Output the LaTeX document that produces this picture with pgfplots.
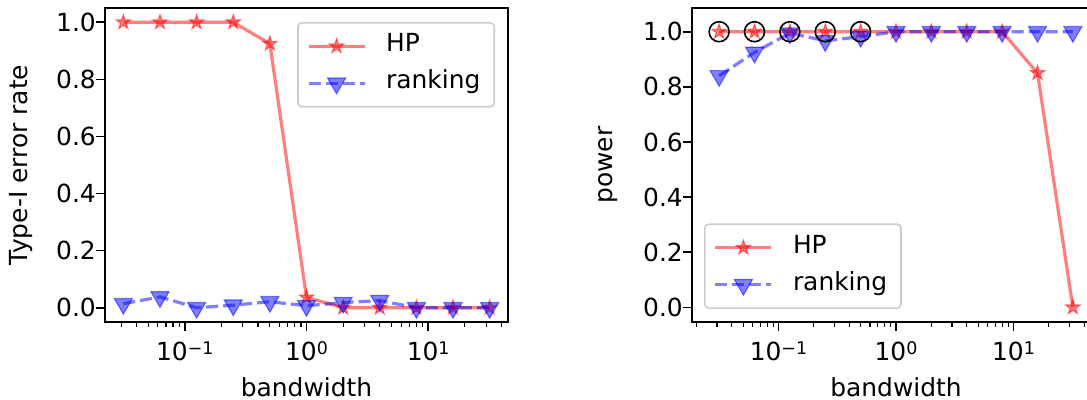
\documentclass[border=0pt]{standalone}
\usepackage{fontspec}
\setmainfont{DejaVu Sans}
\usepackage{pgfplots}
\pgfplotsset{compat=1.18}

\pgfdeclareplotmark{fstar}{%
  \pgfpathmoveto{\pgfpointpolar{90}{\pgfplotmarksize}}%
  \pgfpathlineto{\pgfpointpolar{126}{0.382\pgfplotmarksize}}%
  \pgfpathlineto{\pgfpointpolar{162}{\pgfplotmarksize}}%
  \pgfpathlineto{\pgfpointpolar{198}{0.382\pgfplotmarksize}}%
  \pgfpathlineto{\pgfpointpolar{234}{\pgfplotmarksize}}%
  \pgfpathlineto{\pgfpointpolar{270}{0.382\pgfplotmarksize}}%
  \pgfpathlineto{\pgfpointpolar{306}{\pgfplotmarksize}}%
  \pgfpathlineto{\pgfpointpolar{342}{0.382\pgfplotmarksize}}%
  \pgfpathlineto{\pgfpointpolar{18}{\pgfplotmarksize}}%
  \pgfpathlineto{\pgfpointpolar{54}{0.382\pgfplotmarksize}}%
  \pgfpathclose
  \pgfusepathqfillstroke}

\newcommand\fs{\fontsize{25}{30}\selectfont}
\newcommand\tenpow[1]{10\raisebox{6bp}{\fontsize{17.5}{20}\selectfont #1}}

\pgfplotstableread{
x        hpA   rkA    hpB   rkB
0.03125  1.0   0.014  1.0   0.840
0.0625   1.0   0.038  1.0   0.925
0.125    1.0   0.000  1.0   0.995
0.25     1.0   0.009  1.0   0.967
0.5      0.925 0.021  1.0   0.982
1        0.036 0.007  1.0   1.0
2        0.0   0.018  1.0   1.0
4        0.0   0.025  1.0   1.0
8        0.0   0.0    1.0   1.0
16       0.0   0.0    0.85  1.0
32       0.0   0.0    0.0   1.0
}\datatab

\pgfplotstableread{
x        y
0.03125  1.0
0.0625   1.0
0.125    1.0
0.25     1.0
0.5      1.0
}\circtab

\pgfplotsset{
  myaxis/.style={
    scale only axis,
    height=314bp,
    tick align=outside,
    tick pos=left,
    major tick length=9bp,
    minor tick length=5bp,
    axis line style={line width=1.6bp},
    every major tick/.style={black, line width=1.6bp},
    every minor tick/.style={black, line width=1.2bp},
    xtick={0.1,1,10},
    xticklabels={\tenpow{−1},\tenpow{0},\tenpow{1}},
    minor xtick={0.02,0.03,0.04,0.05,0.06,0.07,0.08,0.09,0.2,0.3,0.4,0.5,0.6,0.7,0.8,0.9,2,3,4,5,6,7,8,9,20,30,40,50},
    ytick={0,0.2,0.4,0.6,0.8,1.0},
    /pgf/number format/assume math mode=true,
    yticklabel style={/pgf/number format/fixed, /pgf/number format/fixed zerofill, /pgf/number format/precision=1, anchor=east, inner sep=0pt, font=\fs},
    xticklabel style={anchor=base, inner sep=0pt, yshift=-29bp, font=\fs},
    label style={font=\fs},
    xlabel={bandwidth},
    xlabel style={at={(axis description cs:0.5,-0.2357)}, anchor=base},
    legend cell align=left,
    legend style={draw=black!20, line width=1.6bp, rounded corners=4bp, font=\fs,
      fill=white, fill opacity=0.8, text opacity=1, draw opacity=1,
      inner xsep=9bp, inner ysep=13bp, row sep=16bp, column sep=20bp,
      nodes={inner sep=0pt, text height=16bp, text depth=5bp}},
    legend image code/.code={\draw[mark repeat=2,mark phase=2,#1] plot coordinates {(0bp,0bp) (28bp,0bp) (56bp,0bp)};},
  },
  hpstyle/.style={color=red, opacity=0.5, line width=3.2bp, mark=fstar, mark size=7.5bp,
    mark options={solid, sharp corners, line width=1.2bp, fill=red}},
  rkstyle/.style={color=blue, opacity=0.5, line width=3.2bp, dash pattern=on 12bp off 5bp,
    mark=triangle*, mark size=10.4bp,
    mark options={solid, sharp corners, rotate=180, line width=1.2bp, fill=blue}},
}

\begin{document}
\begin{tikzpicture}[font=\fs]
\useasboundingbox (0,0) rectangle (1087bp,400bp);

\begin{axis}[xmode=log, myaxis,
  at={(105bp,78bp)}, anchor=south west,
  width=403bp,
  xmin=0.02208, xmax=45.29,
  ymin=-0.05, ymax=1.05,
  ylabel={Type-I error rate},
  ylabel style={at={(axis description cs:-0.2084,0.5)}, anchor=center},
  legend style={at={(axis description cs:1,1)}, anchor=north east, xshift=-13bp, yshift=-14bp},
]
\addplot[hpstyle] table[x=x, y=hpA] {\datatab};
\addlegendentry{\makebox[99bp][l]{HP}}
\addplot[rkstyle] table[x=x, y=rkA] {\datatab};
\addlegendentry{\makebox[99bp][l]{ranking}}
\end{axis}

\begin{axis}[xmode=log, myaxis,
  at={(692bp,78bp)}, anchor=south west,
  width=408bp,
  xmin=0.01837, xmax=54.45,
  ymin=-0.053, ymax=1.086,
  ylabel={power},
  ylabel style={at={(axis description cs:-0.206,0.5)}, anchor=center},
  legend style={at={(axis description cs:0,0)}, anchor=south west, xshift=12bp, yshift=13bp},
]
\addplot[hpstyle] table[x=x, y=hpB] {\datatab};
\addlegendentry{\makebox[99bp][l]{HP}}
\addplot[rkstyle] table[x=x, y=rkB] {\datatab};
\addlegendentry{\makebox[99bp][l]{ranking}}
\addplot[only marks, mark=o, mark size=10bp, black, mark options={line width=1.6bp}, forget plot] table[x=x, y=y] {\circtab};
\end{axis}
\end{tikzpicture}
\end{document}
